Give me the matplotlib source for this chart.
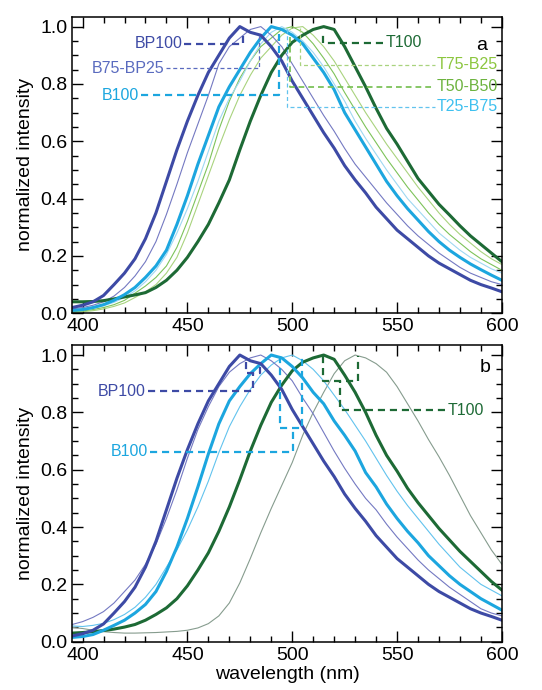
import numpy as np
import matplotlib
matplotlib.use('Agg')
import matplotlib.pyplot as plt
from matplotlib.ticker import MultipleLocator

plt.rcParams['font.family'] = ['Liberation Sans', 'DejaVu Sans']

# wavelength grid (nm), 5 nm steps
wl = list(range(395, 605, 5))

# ---- panel a ----
a_bp100 = [0.02, 0.028, 0.04, 0.062, 0.1, 0.14, 0.19, 0.26, 0.35, 0.46, 0.57, 0.67, 0.76, 0.84,
           0.9, 0.96, 1.0, 0.98, 0.97, 0.93, 0.88, 0.81, 0.75, 0.69, 0.63, 0.576, 0.515, 0.465, 0.42,
           0.37, 0.33, 0.29, 0.26, 0.23, 0.2, 0.175, 0.155, 0.135, 0.115, 0.1, 0.088, 0.075]
a_b75bp25 = [0.015, 0.02, 0.028, 0.04, 0.06, 0.09, 0.13, 0.18, 0.25, 0.345, 0.45, 0.56, 0.66, 0.76,
             0.87, 0.93, 0.96, 0.99, 1.0, 0.97, 0.93, 0.87, 0.81, 0.75, 0.69, 0.635, 0.575, 0.52, 0.475,
             0.43, 0.385, 0.345, 0.305, 0.27, 0.24, 0.21, 0.185, 0.16, 0.14, 0.125, 0.11, 0.1]
a_b100 = [0.01, 0.013, 0.02, 0.03, 0.045, 0.065, 0.09, 0.125, 0.165, 0.22, 0.31, 0.41, 0.52, 0.62,
          0.72, 0.79, 0.85, 0.91, 0.96, 1.0, 0.99, 0.97, 0.94, 0.89, 0.84, 0.78, 0.7, 0.64, 0.58,
          0.52, 0.46, 0.41, 0.365, 0.325, 0.285, 0.25, 0.22, 0.195, 0.172, 0.152, 0.133, 0.115]
a_t25b75 = [0.01, 0.012, 0.017, 0.026, 0.038, 0.055, 0.078, 0.11, 0.15, 0.205, 0.28, 0.365, 0.46, 0.565,
            0.67, 0.75, 0.81, 0.88, 0.94, 0.98, 1.0, 0.98, 0.95, 0.91, 0.86, 0.8, 0.74, 0.67, 0.61,
            0.555, 0.5, 0.45, 0.4, 0.36, 0.32, 0.28, 0.25, 0.22, 0.195, 0.175, 0.155, 0.14]
a_t50b50 = [0.005, 0.008, 0.013, 0.02, 0.03, 0.045, 0.07, 0.095, 0.125, 0.165, 0.23, 0.32, 0.42, 0.52,
            0.64, 0.74, 0.82, 0.88, 0.93, 0.96, 0.99, 1.0, 0.98, 0.94, 0.89, 0.835, 0.77, 0.71, 0.65,
            0.595, 0.54, 0.49, 0.44, 0.395, 0.35, 0.31, 0.275, 0.245, 0.215, 0.19, 0.17, 0.15]
a_t75b25 = [0.003, 0.005, 0.009, 0.015, 0.024, 0.036, 0.055, 0.075, 0.1, 0.14, 0.195, 0.28, 0.38, 0.48,
            0.58, 0.675, 0.76, 0.83, 0.89, 0.93, 0.97, 0.995, 1.0, 0.97, 0.93, 0.88, 0.82, 0.76, 0.7,
            0.645, 0.59, 0.54, 0.49, 0.44, 0.395, 0.35, 0.31, 0.275, 0.245, 0.215, 0.19, 0.17]
a_t100 = [0.04, 0.04, 0.041, 0.044, 0.05, 0.057, 0.064, 0.072, 0.09, 0.115, 0.15, 0.195, 0.25, 0.31,
          0.385, 0.465, 0.57, 0.67, 0.76, 0.84, 0.9, 0.945, 0.97, 0.99, 1.0, 0.99, 0.93, 0.86, 0.79,
          0.715, 0.645, 0.59, 0.53, 0.47, 0.425, 0.38, 0.343, 0.305, 0.27, 0.24, 0.21, 0.18]

# ---- panel b ----
b_bp100 = a_bp100
b_violet = [0.06, 0.07, 0.085, 0.105, 0.135, 0.175, 0.215, 0.27, 0.34, 0.43, 0.53, 0.64, 0.74, 0.82,
            0.89, 0.94, 0.97, 0.99, 1.0, 0.98, 0.95, 0.91, 0.85, 0.795, 0.73, 0.665, 0.605, 0.55, 0.5,
            0.46, 0.41, 0.365, 0.325, 0.285, 0.25, 0.22, 0.19, 0.165, 0.14, 0.115, 0.1, 0.09]
b_b100 = [0.015, 0.018, 0.025, 0.04, 0.057, 0.075, 0.1, 0.13, 0.175, 0.245, 0.33, 0.43, 0.54, 0.655,
          0.76, 0.84, 0.89, 0.935, 0.97, 1.0, 0.99, 0.96, 0.92, 0.87, 0.83, 0.77, 0.72, 0.665, 0.59,
          0.54, 0.48, 0.43, 0.385, 0.345, 0.3, 0.265, 0.23, 0.2, 0.175, 0.15, 0.13, 0.11]
b_lightblue = [0.055, 0.053, 0.057, 0.064, 0.077, 0.095, 0.12, 0.155, 0.2, 0.26, 0.32, 0.39, 0.47, 0.56,
               0.66, 0.75, 0.82, 0.88, 0.93, 0.965, 0.99, 1.0, 0.98, 0.95, 0.91, 0.86, 0.81, 0.755, 0.7,
               0.64, 0.58, 0.525, 0.475, 0.43, 0.385, 0.34, 0.3, 0.26, 0.23, 0.2, 0.18, 0.16]
b_t100 = [0.03, 0.032, 0.035, 0.039, 0.044, 0.051, 0.06, 0.075, 0.095, 0.118, 0.15, 0.195, 0.25, 0.31,
          0.385, 0.47, 0.565, 0.665, 0.755, 0.835, 0.895, 0.945, 0.975, 0.99, 1.0, 0.985, 0.93, 0.87, 0.8,
          0.72, 0.65, 0.595, 0.535, 0.485, 0.44, 0.395, 0.355, 0.315, 0.28, 0.245, 0.21, 0.18]
b_gray = [0.05, 0.046, 0.04, 0.035, 0.032, 0.03, 0.03, 0.031, 0.032, 0.034, 0.036, 0.04, 0.048, 0.063,
          0.09, 0.135, 0.205, 0.29, 0.38, 0.465, 0.545, 0.625, 0.72, 0.8, 0.87, 0.935, 0.98, 1.0, 0.99,
          0.97, 0.94, 0.89, 0.83, 0.77, 0.705, 0.645, 0.58, 0.51, 0.44, 0.38, 0.32, 0.27]

c_dblue = '#3d4aa5'
c_violet = '#7479c2'
c_blue = '#1ca6df'
c_lblue = '#9fd8f2'
c_lblue2 = '#62c3ee'
c_lgreen = '#a9d37e'
c_green = '#7dc35a'
c_dgreen = '#1d6a35'
c_gray = '#869c8e'

fig = plt.figure(figsize=(5.42, 6.90), dpi=100)
ax1 = fig.add_axes([0.133, 0.546, 0.793, 0.430])
ax2 = fig.add_axes([0.133, 0.070, 0.793, 0.430])

thin = 0.8
thick = 2.2
dash = (0, (3.2, 2.2))

# panel a curves
ax1.plot(wl, a_t75b25, color=c_lgreen, lw=thin)
ax1.plot(wl, a_t50b50, color=c_green, lw=thin)
ax1.plot(wl, a_t25b75, color=c_lblue, lw=thin)
ax1.plot(wl, a_b75bp25, color=c_violet, lw=thin)
ax1.plot(wl, a_t100, color=c_dgreen, lw=thick)
ax1.plot(wl, a_b100, color=c_blue, lw=thick)
ax1.plot(wl, a_bp100, color=c_dblue, lw=thick)

# panel b curves
ax2.plot(wl, b_gray, color=c_gray, lw=thin)
ax2.plot(wl, b_lightblue, color=c_lblue2, lw=thin)
ax2.plot(wl, b_violet, color=c_violet, lw=thin)
ax2.plot(wl, b_t100, color=c_dgreen, lw=thick)
ax2.plot(wl, b_b100, color=c_blue, lw=thick)
ax2.plot(wl, b_bp100, color=c_dblue, lw=thick)

fs_lab = 11.5

# panel a labels + leaders
ax1.plot([448.5, 476.5, 476.5], [0.94, 0.94, 0.985], color=c_dblue, lw=1.6, ls=dash)
ax1.text(447.5, 0.94, 'BP100', color=c_dblue, fontsize=fs_lab, ha='right', va='center')
ax1.plot([440, 484, 484], [0.855, 0.855, 0.97], color='#5a6bbf', lw=0.9, ls=dash)
ax1.text(439, 0.855, 'B75-BP25', color='#5a6bbf', fontsize=fs_lab, ha='right', va='center')
ax1.plot([428, 493.5, 493.5], [0.76, 0.76, 0.975], color=c_blue, lw=1.6, ls=dash)
ax1.text(427, 0.76, 'B100', color=c_blue, fontsize=fs_lab, ha='right', va='center')
ax1.plot([503.7, 503.7, 568], [0.995, 0.867, 0.867], color=c_lgreen, lw=0.9, ls=dash)
ax1.text(569, 0.867, 'T75-B25', color='#8cc63f', fontsize=fs_lab, ha='left', va='center')
ax1.plot([499, 499, 568], [0.965, 0.79, 0.79], color=c_green, lw=1.3, ls=dash)
ax1.text(569, 0.79, 'T50-B50', color='#6db33f', fontsize=fs_lab, ha='left', va='center')
ax1.plot([497.5, 497.5, 568], [0.99, 0.72, 0.72], color=c_lblue2, lw=0.9, ls=dash)
ax1.text(569, 0.72, 'T25-B75', color='#3ec0ef', fontsize=fs_lab, ha='left', va='center')
ax1.plot([543.5, 514.8, 514.8], [0.943, 0.943, 0.985], color=c_dgreen, lw=1.6, ls=dash)
ax1.text(544.5, 0.943, 'T100', color=c_dgreen, fontsize=fs_lab, ha='left', va='center')
ax1.text(590.5, 0.935, 'a', fontsize=14, ha='center', va='center')

# panel b labels + leaders
ax2.plot([431, 481.5, 481.5], [0.873, 0.873, 0.937], color=c_dblue, lw=1.6, ls=dash)
ax2.plot([478, 478, 484.7, 484.7], [0.975, 0.937, 0.937, 0.975], color=c_dblue, lw=1.6, ls=dash)
ax2.text(430, 0.873, 'BP100', color=c_dblue, fontsize=fs_lab, ha='right', va='center')
ax2.plot([432, 500.2, 500.2], [0.662, 0.662, 0.744], color=c_blue, lw=1.6, ls=dash)
ax2.plot([494.2, 494.2, 504.5, 504.5], [0.995, 0.744, 0.744, 0.995], color=c_blue, lw=1.6, ls=dash)
ax2.text(431, 0.662, 'B100', color=c_blue, fontsize=fs_lab, ha='right', va='center')
ax2.plot([573, 523, 523], [0.808, 0.808, 0.911], color=c_dgreen, lw=1.6, ls=dash)
ax2.plot([514.8, 514.8, 531.6, 531.6], [0.995, 0.911, 0.911, 0.995], color=c_dgreen, lw=1.6, ls=dash)
ax2.text(574, 0.808, 'T100', color=c_dgreen, fontsize=fs_lab, ha='left', va='center')
ax2.text(592, 0.955, 'b', fontsize=14, ha='center', va='center')

for ax in (ax1, ax2):
    ax.set_xlim(395, 600)
    ax.set_ylim(0, 1.035)
    ax.xaxis.set_major_locator(MultipleLocator(50))
    ax.xaxis.set_minor_locator(MultipleLocator(10))
    ax.yaxis.set_major_locator(MultipleLocator(0.2))
    ax.yaxis.set_minor_locator(MultipleLocator(0.05))
    ax.tick_params(which='both', direction='in', top=True, right=True, labelsize=14, width=1.0)
    ax.tick_params(which='major', length=8)
    ax.tick_params(which='minor', length=4.5)
    ax.yaxis.set_major_formatter(matplotlib.ticker.FormatStrFormatter('%.1f'))
    for s in ax.spines.values():
        s.set_linewidth(1.1)
    ax.set_ylabel('normalized intensity', fontsize=14, labelpad=4)

ax2.set_xlabel('wavelength (nm)', fontsize=14, labelpad=2)

fig.savefig('out.png', dpi=100)
